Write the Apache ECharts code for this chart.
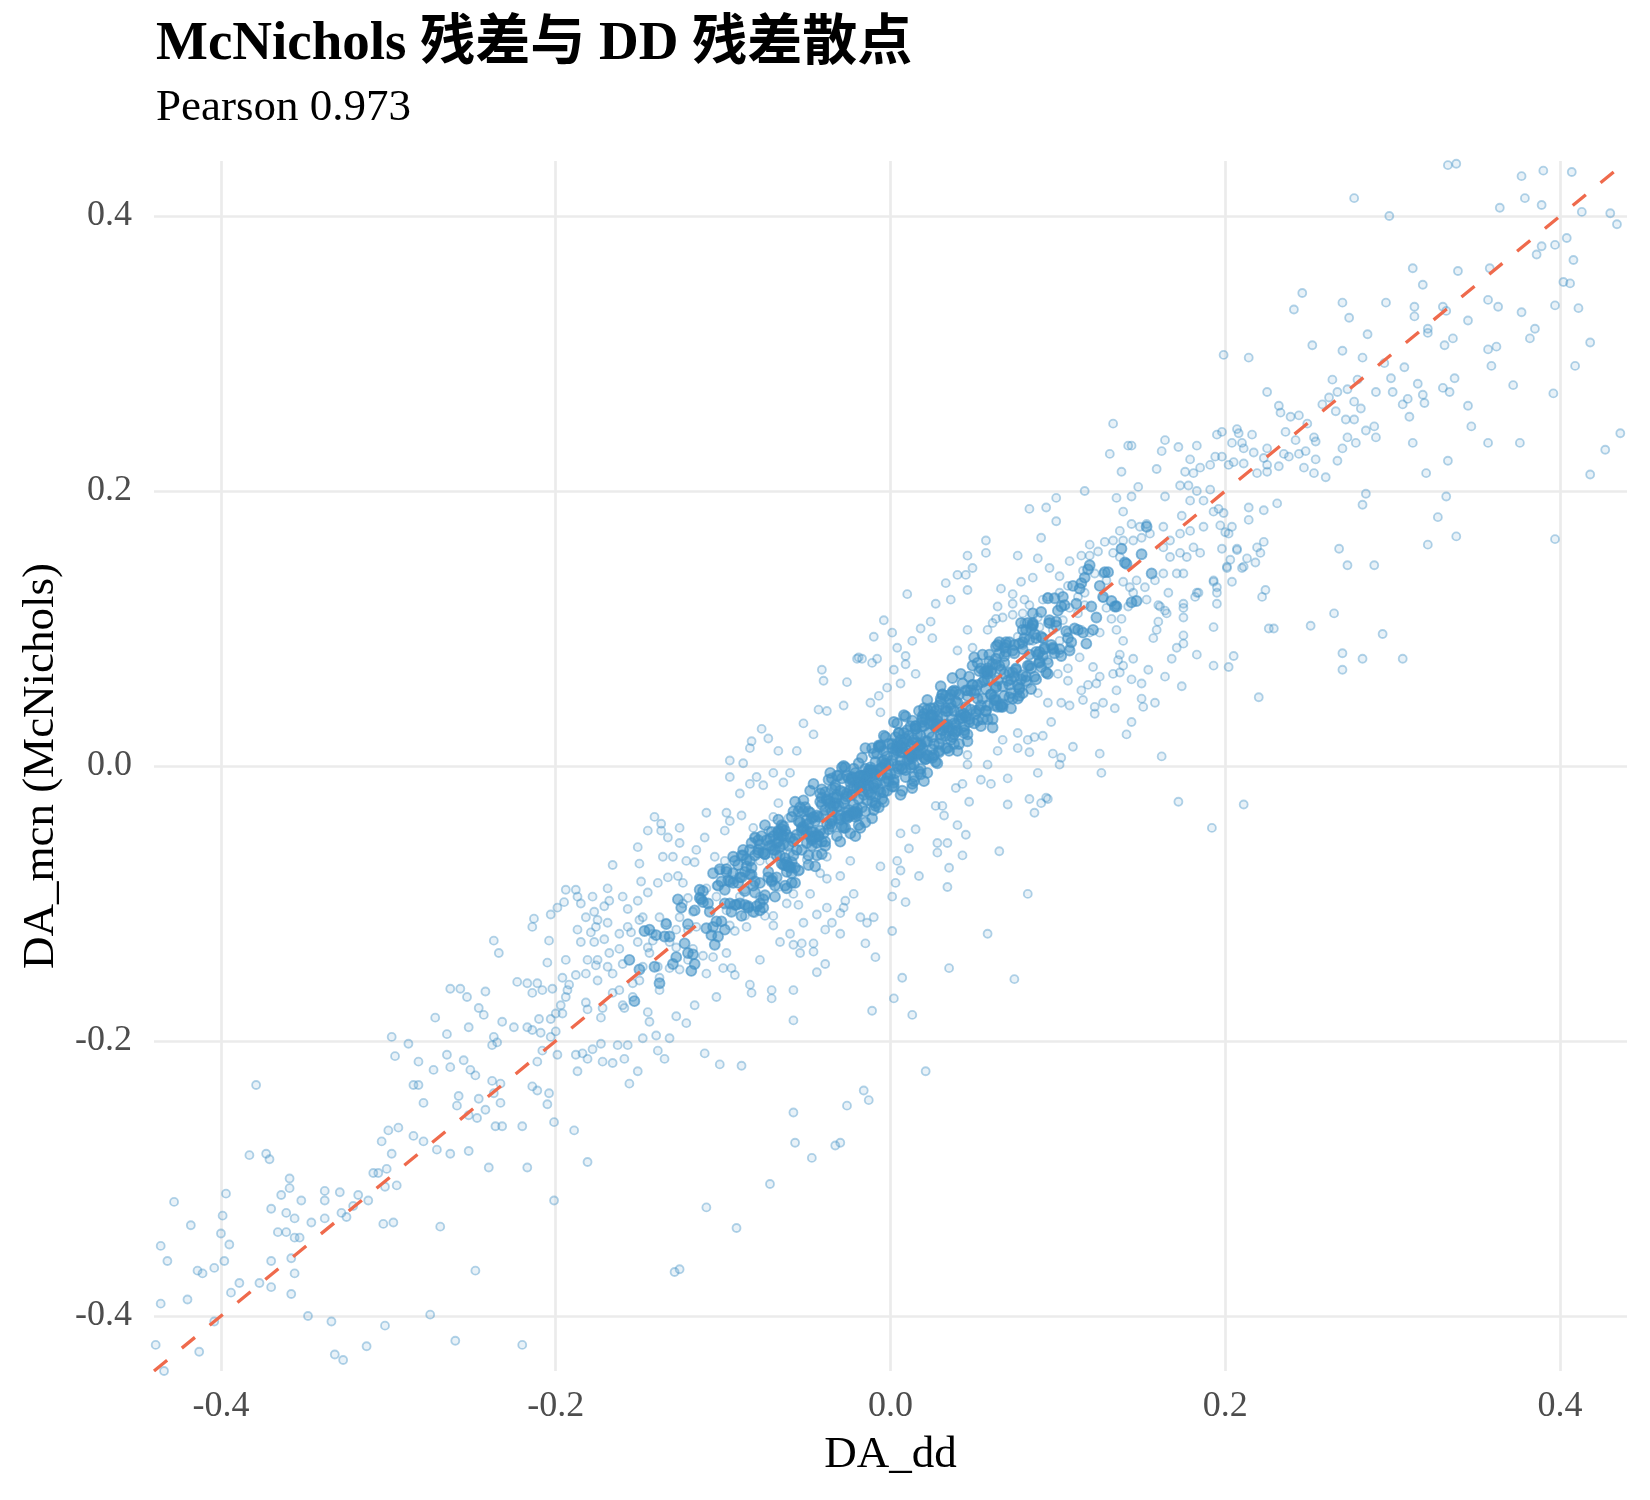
<!DOCTYPE html>
<html>
<head>
<meta charset="utf-8">
<script src="https://cdn.jsdelivr.net/npm/echarts@6/dist/echarts.min.js"></script>
<style>
  html, body { margin: 0; padding: 0; background: #fff; }
  #chart { width: 1650px; height: 1500px; }
</style>
</head>
<body>
<div id="chart"></div>
<script>
// DA_dd (x) vs DA_mcn (y)
const coreBand = [
  [-.003,.001],[.012,.001],[-.021,-.005],[.034,.028],[-.046,-.037],[.058,.044],[-.067,-.055],[.071,.068],[-.009,-.027],[.025,.032],
  [.005,-.002],[-.015,-.002],[.028,.03],[-.032,-.051],[.041,.052],[-.052,-.046],[.063,.048],[-.078,-.057],[.087,.083],[-.094,-.085],
  [-.007,.014],[.018,.015],[-.026,-.038],[.037,.054],[-.043,-.051],[.049,.073],[-.058,-.055],[.066,.044],[-.072,-.058],[.083,.073],
  [.001,-.015],[-.011,-.005],[.022,.041],[-.035,-.044],[.045,.043],[-.055,-.076],[.061,.074],[-.069,-.061],[.076,.059],[-.088,-.065],
  [.009,.02],[-.019,-.043],[.031,.036],[-.038,-.024],[.047,.034],[-.061,-.058],[.068,.086],[-.081,-.092],[.092,.085],[-.103,-.087],
  [-.002,-.006],[.008,.017],[-.013,-.014],[.016,.008],[-.024,-.012],[.027,.029],[-.036,-.042],[.039,.054],[-.048,-.051],[.053,.041],
  [.004,.011],[-.006,-.019],[.014,.009],[-.017,-.007],[.023,.024],[-.028,-.045],[.033,.042],[-.04,-.036],[.044,.024],[-.05,-.039],
  [-.004,.011],[.011,.005],[-.016,-.008],[.02,.006],[-.027,-.037],[.03,.049],[-.034,-.029],[.043,.035],[-.054,-.041],[.057,.056],
  [.007,-.002],[-.009,-.006],[.019,.032],[-.022,-.016],[.026,.008],[-.031,-.038],[.036,.052],[-.044,-.056],[.051,.055],[-.059,-.037],
  [-.001,.001],[.003,.021],[-.012,-.021],[.013,.017],[-.019,-.012],[.021,.005],[-.03,-.018],[.032,.03],[-.041,-.055],[.046,.055],
  [.002,-.01],[-.005,.003],[.01,.026],[-.014,-.017],[.017,.009],[-.023,-.01],[.029,.01],[-.033,-.027],[.038,.04],[-.045,-.051],
  [-.008,-.003],[.006,.004],[-.018,-.007],[.024,.036],[-.029,-.044],[.035,.026],[-.039,-.019],[.048,.055],[-.056,-.061],[.062,.044],
  [.012,.015],[-.013,-.003],[.025,.012],[-.025,-.036],[.039,.047],[-.042,-.026],[.054,.044],[-.063,-.067],[.073,.084],[-.084,-.079],
  [-.005,-.024],[.015,.029],[-.02,-.016],[.027,.028],[-.033,-.016],[.042,.037],[-.047,-.058],[.056,.068],[-.065,-.046],[.07,.062],
  [.006,.019],[-.003,.002],[.016,.009],[-.011,-.026],[.02,.029],[-.016,-.012],[.032,.028],[-.026,-.007],[.035,.049],[-.037,-.046],
  [-.006,-.007],[.009,-.008],[-.014,-.008],[.019,.029],[-.021,-.033],[.029,.044],[-.032,-.03],[.04,.026],[-.044,-.036],[.05,.053],
  [.003,.012],[-.01,-.014],[.013,.033],[-.024,-.017],[.022,.008],[-.034,-.023],[.037,.021],[-.047,-.048],[.055,.061],[-.064,-.051],
  [0,-.006],[.016,.017],[-.009,.003],[.026,.016],[-.015,-.033],[.033,.04],[-.023,-.008],[.045,.036],[-.038,-.042],[.059,.076],
  [.008,.024],[-.004,-.019],[.017,.015],[-.012,-.003],[.028,.033],[-.02,-.031],[.041,.034],[-.027,-.024],[.049,.059],[-.035,-.017],
  [-.011,-.004],[.004,.016],[-.022,-.028],[.014,.001],[-.031,-.029],[.023,.031],[-.04,-.049],[.03,.047],[-.049,-.033],[.037,.034],
  [-.052,-.044],[-.061,-.073],[-.067,-.048],[-.073,-.077],[-.079,-.054],[-.085,-.103],[-.091,-.085],[-.097,-.083],[-.104,-.113],[-.112,-.091],
  [-.049,-.065],[-.057,-.053],[-.064,-.072],[-.071,-.058],[-.076,-.097],[-.083,-.074],[-.088,-.061],[-.095,-.106],[-.101,-.084],[-.108,-.106],
  [-.055,-.033],[-.059,-.078],[-.066,-.065],[-.069,-.095],[-.075,-.064],[-.081,-.084],[-.087,-.101],[-.093,-.069],[-.099,-.119],[-.117,-.105],
  [-.05,-.047],[-.063,-.047],[-.068,-.081],[-.074,-.054],[-.078,-.085],[-.084,-.069],[-.09,-.081],[-.096,-.1],[-.106,-.078],[-.121,-.136],
  [.051,.04],[.058,.067],[.064,.043],[.069,.083],[.075,.07],[.081,.065],[.086,.096],[.093,.068],[.099,.105],[.106,.093],
  [.054,.071],[.06,.052],[.066,.07],[.072,.053],[.077,.089],[.083,.081],[.089,.075],[.095,.106],[.102,.08],[.111,.118],
  [.052,.049],[.057,.04],[.063,.078],[.067,.058],[.073,.049],[.079,.085],[.084,.056],[.091,.093],[.097,.085],[.115,.097],
  [.056,.062],[.062,.05],[.068,.067],[.074,.082],[.078,.063],[.085,.104],[.088,.081],[.094,.075],[.104,.117],[.12,.116],
  [-.017,-.03],[.005,.024],[-.025,-.009],[.018,-.002],[-.035,-.04],[.027,.04],[-.042,-.02],[.036,.019],[-.053,-.061],[.047,.032],
  [.011,.009],[-.007,.015],[.021,.005],[-.018,-.015],[.024,.037],[-.026,-.034],[.034,.013],[-.036,-.027],[.043,.06],[-.046,-.048],
  [-.002,.007],[.002,-.012],[-.015,-.01],[.007,.01],[-.02,-.036],[.012,.029],[-.028,-.027],[.019,.013],[-.037,-.025],[.025,.006],
  [.015,.027],[-.017,-.018],[.02,.038],[-.022,-.034],[.03,.023],[-.029,-.009],[.037,.026],[-.043,-.037],[.042,.039],[-.048,-.034],
  [.001,.004],[-.002,-.009],[.004,0],[-.006,-.002],[.009,.012],[-.01,-.016],[.013,.006],[-.014,-.009],[.018,.022],[-.019,-.024],
  [.003,-.005],[-.004,.004],[.007,.013],[-.008,-.012],[.012,.008],[-.013,-.019],[.016,.023],[-.017,-.012],[.021,.018],[-.023,-.021],
  [-.001,-.011],[.002,.008],[-.005,-.001],[.006,.01],[-.009,-.013],[.01,.004],[-.012,-.003],[.014,.019],[-.016,-.021],[.018,.011],
  [.025,.021],[-.026,-.02],[.028,.036],[-.03,-.036],[.031,.026],[-.032,-.023],[.034,.04],[-.035,-.039],[.038,.031],[-.039,-.032],
  [.04,.046],[-.042,-.047],[.044,.038],[-.045,-.04],[.046,.051],[-.047,-.053],[.048,.041],[-.05,-.056],[.052,.059],[-.053,-.045],
  [.055,.049],[-.056,-.05],[.058,.063],[-.058,-.065],[.06,.068],[-.06,-.052],[.063,.057],[-.062,-.07],[.065,.073],[-.066,-.059],
  [-.004,.022],[.013,-.016],[-.019,.002],[.027,.003],[-.036,-.005],[.044,.026],[-.052,-.025],[.061,.028],[-.07,-.051],[.079,.053],
  [.006,-.021],[-.011,.013],[.02,-.011],[-.029,-.001],[.038,.016],[-.046,-.013],[.054,.029],[-.064,-.044],[.072,.042],[-.081,-.052],
  [-.008,.009],[.017,.04],[-.024,-.049],[.033,.013],[-.041,-.017],[.05,.079],[-.057,-.085],[.067,.043],[-.075,-.043],[.085,.103],
  [.002,.032],[-.015,-.041],[.024,.042],[-.032,-.007],[.04,.011],[-.049,-.072],[.059,.081],[-.067,-.039],[.077,.056],[-.089,-.065],
  [-.01,-.032],[.008,.037],[-.027,-.001],[.022,-.005],[-.039,-.058],[.031,.052],[-.048,-.018],[.046,.023],[-.062,-.089],[.055,.081],
  [.014,-.011],[-.006,.014],[.03,.058],[-.021,-.051],[.035,.011],[-.037,-.01],[.052,.033],[-.045,-.073],[.064,.088],[-.057,-.026],
  [-.062,-.05],[-.069,-.087],[-.077,-.051],[-.083,-.079],[-.09,-.1],[-.098,-.077],[-.105,-.13],[-.113,-.097],[-.121,-.115],[-.13,-.144],
  [-.065,-.071],[-.072,-.053],[-.08,-.102],[-.086,-.073],[-.094,-.066],[-.101,-.113],[-.109,-.1],[-.117,-.144],[-.125,-.103],[-.135,-.124],
  [-.058,-.033],[-.064,-.057],[-.071,-.084],[-.079,-.061],[-.087,-.091],[-.094,-.078],[-.102,-.075],[-.11,-.118],[-.118,-.137],[-.127,-.097],
  [-.06,-.074],[-.068,-.065],[-.075,-.064],[-.082,-.106],[-.091,-.072],[-.099,-.1],[-.107,-.123],[-.114,-.09],[-.123,-.129],[-.14,-.123],
  [-.132,-.124],[-.138,-.158],[-.144,-.119],[-.15,-.148],[-.156,-.141],[-.063,-.072],[-.071,-.048],[-.085,-.102],[-.096,-.084],[-.119,-.149],
  [-.128,-.139],[-.134,-.115],[-.141,-.146],[-.147,-.12],[-.153,-.171],[-.067,-.047],[-.078,-.105],[-.089,-.081],[-.103,-.124],[-.112,-.099],
  [.062,.048],[.069,.09],[.077,.051],[.083,.092],[.09,.072],[.098,.122],[.105,.098],[.113,.129],[.121,.099],[.13,.141],
  [.065,.082],[.072,.063],[.08,.093],[.086,.065],[.094,.122],[.101,.085],[.109,.131],[.117,.089],[.125,.131],[.135,.116],
  [.058,.034],[.064,.062],[.071,.09],[.079,.066],[.087,.093],[.094,.067],[.102,.116],[.11,.1],[.118,.143],[.127,.123],
  [.06,.069],[.068,.051],[.075,.071],[.082,.104],[.091,.08],[.099,.102],[.107,.084],[.114,.133],[.123,.108],[.14,.148],
  [.132,.12],[.138,.158],[.144,.119],[.15,.154],[.156,.14],[.063,.074],[.071,.05],[.085,.102],[.096,.088],[.119,.146],
  [.128,.141],[.134,.116],[.141,.147],[.147,.12],[.153,.174],[.067,.045],[.078,.104],[.089,.083],[.103,.123],[.112,.099],
  [-.003,-.011],[.004,.014],[-.011,-.005],[.009,-.003],[-.018,-.015],[.015,.029],[-.025,-.032],[.022,.018],[-.032,-.021],[.029,.016],
  [.001,.013],[-.007,-.017],[.012,.007],[-.014,-.006],[.019,.034],[-.021,-.035],[.026,.03],[-.028,-.019],[.033,.022],[-.035,-.033],
  [-.005,-.002],[.006,0],[-.009,-.022],[.011,.022],[-.016,-.007],[.018,.016],[-.023,-.009],[.025,.037],[-.03,-.039],[.036,.042],
  [.039,.03],[-.041,-.028],[.045,.055],[-.047,-.054],[.051,.038],[-.053,-.047],[.057,.069],[-.059,-.07],[.063,.058],[-.065,-.051],
  [.068,.075],[-.071,-.083],[.074,.065],[-.076,-.063],[.079,.09],[-.082,-.087],[.084,.071],[-.087,-.077],[.09,.094],[-.093,-.101],
  [-.021,-.037],[.019,.036],[-.041,-.023],[.038,.023],[-.061,-.073],[.058,.071],[-.079,-.063],[.081,.062],[-.099,-.09],[.097,.086],
  [-.086,-.068],[-.078,-.1],[-.07,-.061],[-.062,-.077],[-.054,-.03],[-.046,-.052],[-.038,-.025],[-.03,-.055],[-.022,-.002],[-.014,-.025],
  [-.006,.015],[.002,-.015],[.01,.018],[.018,-.006],[.026,.042],[.034,.03],[.042,.067],[.05,.031],[.058,.069],[.066,.043],
  [.074,.088],[.082,.073],[.09,.112],[.098,.082],[-.089,-.109],[-.081,-.065],[-.073,-.081],[-.065,-.043],[-.057,-.074],[-.049,-.042],
  [-.041,-.064],[-.033,-.014],[-.025,-.037],[-.017,.006],[-.009,-.029],[-.001,.016],[.007,-.018],[.015,.027],[.023,.007],[.031,.052],
  [.039,.025],[.047,.065],[.055,.034],[.063,.087],[.071,.059],[.079,.099],[.087,.063],[.095,.104],[-.083,-.056],[-.075,-.094],
  [-.067,-.05],[-.059,-.085],[-.051,-.03],[-.043,-.051],[-.035,-.009],[-.027,-.045],[-.019,-.008],[-.011,-.038],[-.003,.021],[.005,.024],
  [.013,-.013],[.021,.034],[.029,.011],[.037,.064],[.045,.036],[.053,.069],[.061,.034],[.069,.088],[.077,.057],[.085,.111],
  [-.092,-.101],[-.084,-.061],[-.076,-.103],[-.068,-.056],[-.06,-.073],[-.052,-.033],[-.044,-.065],[-.036,-.03],[-.028,0],[-.02,-.034],
  [-.012,-.001],[-.004,-.026],[.004,.031],[.012,-.001],[.02,.042],[.028,.002],[.036,.045],[.044,.029],[.052,.075],[.06,.052],
  [.068,.08],[.076,.049],[.084,.1],[.092,.086],[.1,.113],[.108,.09],[-.098,-.075],[-.106,-.117],[-.114,-.096],[.116,.137],
  [-.047,-.038],[-.039,-.055],[-.031,-.007],[-.023,-.034],[-.015,.013],[-.007,-.03],[.001,.016],[.009,.036],[.017,-.004],[.025,.036],
  [.033,.051],[.041,.016],[.049,.059],[.057,.04],[.065,.09],[.073,.068],[.081,.099],[.089,.076],[-.063,-.087],[-.055,-.04],
  [-.026,-.022],[-.018,-.045],[-.01,.009],[-.002,-.018],[.006,.015],[.014,-.008],[.022,.048],[.03,.02],[.038,.055],[.046,.018]
];

const upperBand = [
  [.057,.164],[.057,.155],[.046,.153],[.04,.139],[.045,.139],[.049,.144],[.033,.133],[.046,.128],[.027,.118],[.036,.121],
  [.01,.125],[.076,.153],[.088,.151],[.083,.187],[.093,.188],[.099,.195],[.099,.178],[.09,.166],[.078,.134],[.085,.137],
  [.095,.144],[.101,.138],[.066,.129],[.073,.125],[.107,.149],[.114,.153],[.119,.153],[.124,.156],[.119,.161],[.128,.163],
  [.115,.142],[.122,.14],[.127,.14],[.106,.131],[.112,.123],[.101,.126],[.094,.123],[.091,.121],[.083,.117],[.08,.121],
  [.073,.118],[.064,.116],[.063,.107],[.067,.108],[.061,.104],[.058,.099],[.073,.11],[.079,.111],[.08,.104],[.088,.108],
  [.089,.101],[.094,.104],[.097,.099],[.103,.106],[.107,.115],[.112,.111],[.116,.117],[.116,.126],[.127,.122],[.129,.115],
  [.135,.117],[.132,.107],[.138,.107],[.135,.099],[.106,.097],[.114,.099],[.119,.097],[.125,.097],[.101,.091],[.107,.086],
  [.113,.079],[.121,.072],[.125,.065],[.123,.06],[.118,.059],[.106,.071],[.106,.062],[.1,.067],[.101,.082],[.094,.077],
  [.085,.091],[.079,.088],[.076,.094],[.088,.075],[.083,.072],[.082,.06],[.088,.053],[.076,.053],[.094,.046],[.102,.046],
  [.107,.044],[.114,.055],[.115,.048],[.122,.043],[.096,.032],
  [-.004,.106],[.001,.097],[-.01,.094],[.018,.1],[.013,.091],[.025,.093],[.024,.105],[.046,.099],[.049,.086],[.04,.084],
  [-.02,.078],[-.017,.078],[-.008,.078],[-.011,.075],[.009,.074],[.004,.086],[-.026,.061],[-.028,.044],[.002,.07],[.015,.067],
  [.009,.08],[-.019,.079],[-.041,.07],[-.04,.062],[-.043,.041],[-.038,.04],[-.052,.031],[-.046,.023],[-.012,.046],[-.006,.039],
  [.006,.06],[-.007,.051],[-.002,.057],
  [.133,.155],[.137,.152],[.139,.164],[.145,.164],[.15,.166],[.155,.169],[.163,.159],[.167,.152],[.173,.155],[.177,.152],
  [.181,.159],[.185,.155],[.171,.14],[.175,.14],[.163,.14],[.158,.135],[.152,.13],[.147,.135],[.143,.13],[.139,.134],
  [.142,.116],[.145,.126],[.153,.121],[.161,.116],[.165,.111],[.175,.118],[.183,.126],[.193,.135],[.195,.13],[.201,.145],
  [.203,.15],[.211,.145],[.221,.155],[.207,.157],[.187,.174],[.179,.171],[.173,.169],[.167,.164],[.163,.174],[.153,.176],
  [.149,.174],[.144,.176],[.137,.171],[.133,.164],[.129,.135]
];

const upperTail = [
  [.133,.249],[.142,.233],[.144,.233],[.164,.237],[.162,.229],[.172,.232],[.183,.233],[.179,.223],[.195,.241],[.198,.243],
  [.207,.245],[.208,.242],[.216,.241],[.204,.235],[.21,.235],[.211,.231],[.217,.228],[.225,.231],[.194,.225],[.198,.225],
  [.202,.219],[.205,.221],[.211,.22],[.131,.227],[.138,.214],[.159,.216],[.176,.214],[.181,.213],[.185,.217],[.191,.219],
  [.223,.224],[.225,.219],[.232,.218],[.238,.225],[.235,.227],[.244,.227],[.248,.229],[.247,.217],[.219,.213],[.225,.214],
  [.239,.254],[.244,.255],[.249,.249],[.242,.237],[.236,.243],[.253,.239],[.254,.236],[.254,.223],[.253,.213],[.26,.21],
  [.27,.231],[.267,.222],[.262,.268],[.258,.263],[.266,.258],[.277,.265],[.281,.26],[.272,.252],[.277,.252],[.289,.247],
  [.284,.244],[.29,.239],[.273,.239],[.278,.235],[.31,.254],[.312,.235],[.357,.235],[.376,.235],[.333,.222],[.32,.213],
  [.225,.272],[.232,.262],[.233,.257],[.321,.318],[.331,.306],[.336,.311],[.345,.324],[.339,.36],[.312,.362],[.318,.35],
  [.277,.413],[.298,.4],[.377,.429],[.379,.413],[.389,.408],[.364,.406],[.389,.378],[.386,.372],[.199,.299],[.214,.297],
  [.282,.297],[.295,.293],[.307,.29],[.264,.281],[.267,.272],[.273,.274],[.279,.281],[.29,.272],[.299,.282],[.3,.272],
  [.315,.278],[.318,.27],[.309,.267],[.306,.263],[.319,.264],[.33,.275],[.334,.272],[.337,.282],[.345,.262],[.347,.247],
  [.372,.277],[.357,.303],[.362,.305],[.359,.291],[.382,.311],[.385,.318],[.333,.437],[.338,.438],[.246,.344],[.241,.332],
  [.27,.337],[.296,.337],[.274,.326],[.313,.334],[.313,.327],[.33,.334],[.332,.331],[.357,.339],[.363,.334],[.377,.33],
  [.321,.315],[.285,.314],[.252,.306],[.27,.302],[.358,.362],
  [.116,.2],[.135,.195],[.139,.185],[.144,.196],[.148,.203],[.164,.196],[.173,.204],[.178,.204],[.183,.2],[.174,.182],
  [.179,.193],[.187,.193],[.191,.201],[.193,.185],[.196,.187],[.199,.184],[.197,.175],[.2,.17],[.204,.174],[.214,.188],
  [.223,.186],[.214,.179],[.231,.191],[.202,.169],[.198,.158],[.207,.158],[.223,.163],[.219,.159],[.218,.148],[.213,.151],
  [.201,.144],[.21,.144],[.193,.134],[.204,.134],[.195,.126],[.195,.118],[.224,.128],[.222,.123],[.226,.1],[.229,.1],
  [.193,.101],[.205,.08],[.202,.072],[.22,.05],[.183,.081],[.193,.073],[.174,.058],[.164,.065],[.158,.046],[.151,.043],
  [.144,.032],[.15,.049],[.134,.042],[.127,.046],[.122,.038],[.168,.078],[.171,.086],[.175,.095],[.175,.089],[.175,.108],
  [.175,.115],[.159,.099],[.157,.093],[.16,.105],[.166,.126],[.16,.117],[.164,.113],[.184,.126],[.182,.123],[.145,.078],
  [.154,.07],[.144,.063],[.15,.06],[.139,.091],[.137,.081],[.136,.077],[.139,.073],[.133,.067],[.137,.068],[.135,.055],
  [.407,.432],[.413,.403],[.43,.402],[.434,.394],[.39,.433],[.397,.335],[.411,.333],[.402,.352],[.406,.351],[.408,.368],
  [.397,.379],[.404,.384],[.418,.308],[.409,.291],[.396,.271],[.332,.196],[.327,.181],[.338,.167],[.321,.161],[.397,.165],
  [.418,.212],[.427,.23],[.436,.242],[.284,.198],[.282,.19],[.268,.158],[.289,.146],[.273,.146],[.251,.102],[.294,.096],
  [.27,.082],[.27,.07],[.282,.078],[.306,.078],[.265,.111]
];

const lowerBand = [
  [-.11,-.034],[-.141,-.037],[-.137,-.042],[-.137,-.047],[-.145,-.047],[-.133,-.052],[-.151,-.059],[-.166,-.072],[-.15,-.071],[-.136,-.066],
  [-.13,-.066],[-.126,-.056],[-.149,-.084],[-.145,-.092],[-.139,-.085],[-.169,-.089],[-.168,-.098],[-.188,-.09],[-.194,-.09],[-.187,-.095],
  [-.199,-.103],[-.195,-.099],[-.177,-.106],[-.157,-.104],[-.169,-.114],[-.179,-.121],[-.187,-.119],[-.203,-.108],[-.213,-.111],[-.214,-.117],
  [-.204,-.127],[-.205,-.143],[-.194,-.141],[-.237,-.127],[-.234,-.136],[-.223,-.157],[-.217,-.158],[-.211,-.158],[-.214,-.165],[-.208,-.163],
  [-.202,-.162],[-.196,-.154],[-.193,-.163],[-.194,-.168],[-.197,-.174],[-.196,-.18],[-.2,-.18],[-.203,-.184],[-.21,-.184],[-.217,-.19],
  [-.214,-.192],[-.209,-.194],[-.203,-.197],[-.2,-.193],[-.232,-.186],[-.225,-.19],[-.237,-.197],[-.235,-.201],[-.238,-.203],[-.246,-.176],
  [-.243,-.181],[-.263,-.162],[-.257,-.162],[-.253,-.168],[-.242,-.164],[-.252,-.19],[-.265,-.195],[-.185,-.128],[-.177,-.128],[-.171,-.126],
  [-.181,-.141],[-.175,-.141],[-.182,-.151],[-.175,-.156],[-.188,-.152],[-.192,-.159],[-.182,-.172],[-.181,-.177],[-.176,-.145],[-.169,-.146],
  [-.168,-.136],[-.162,-.133],[-.16,-.144],[-.166,-.151],[-.162,-.163],[-.166,-.165],[-.16,-.174],[-.172,-.176],[-.173,-.183],[-.159,-.176],
  [-.154,-.158],[-.154,-.168],[-.15,-.156],[-.148,-.146],[-.144,-.136],[-.142,-.127],[-.139,-.146],[-.138,-.154],[-.145,-.179],[-.144,-.186],
  [-.14,-.196],[-.148,-.198],[-.132,-.198],[-.139,-.207],[-.135,-.213],[-.157,-.203],[-.163,-.203],[-.173,-.202],[-.178,-.206],[-.159,-.213],
  [-.184,-.209],[-.181,-.213],[-.188,-.21],[-.199,-.21],[-.208,-.207],[-.111,-.209],[-.128,-.182],[-.122,-.187],[-.117,-.174],[-.132,-.147],
  [-.138,-.163],[-.126,-.148],[-.121,-.141],[-.11,-.151],[-.118,-.133],[-.112,-.138],[-.106,-.139],[-.104,-.168],[-.1,-.147],[-.095,-.147],
  [-.093,-.152],[-.098,-.136],[-.093,-.12],[-.084,-.159],[-.083,-.165],[-.078,-.141],[-.071,-.163],[-.071,-.169],[-.058,-.163],[-.054,-.136],
  [-.046,-.135],[-.039,-.144],[-.044,-.15],[-.058,-.185],[-.011,-.178],[-.015,-.129],[-.03,-.122],[-.039,-.119],[-.035,-.114],[-.046,-.129],
  [-.053,-.129],[-.058,-.13],[-.066,-.128],[-.06,-.122],[-.07,-.116],[-.052,-.114],[-.081,-.107],[-.07,-.109],[-.044,-.108],[-.028,-.103],
  [-.022,-.093],[-.038,-.103],[-.055,-.101],[-.062,-.1],[-.075,-.109],[-.087,-.109],[-.086,-.117],[-.096,-.116],[-.098,-.105],[-.104,-.095],
  [-.104,-.087],[-.11,-.089],[-.114,-.095],[-.121,-.096],[-.124,-.1],[-.126,-.11],[-.118,-.106],[-.116,-.117],[-.121,-.119],[-.128,-.119],
  [-.132,-.128],[-.128,-.132],[-.134,-.114],[-.138,-.11],[-.142,-.122],[-.145,-.132],[-.151,-.128],[-.155,-.121],[-.157,-.117],[-.162,-.122],
  [-.148,-.11],[-.16,-.095],[-.151,-.098],[-.15,-.112],[-.175,-.112],[-.176,-.117],[-.171,-.102],[-.178,-.095],[-.182,-.11],[-.185,-.1],
  [-.126,-.045],[-.098,-.034],[-.089,-.036],[-.096,-.04],[-.099,-.047],[-.111,-.052],[-.116,-.061],[-.122,-.069],[-.117,-.07],[-.133,-.081],
  [-.127,-.08],[-.124,-.085],[-.08,-.008],[-.07,-.005],[-.06,-.005],[-.064,-.012],[-.076,-.014],[-.084,-.013],[-.09,-.02],[-.096,-.008],
  [-.067,-.027],[-.07,-.037],[-.073,-.047],[-.082,-.045],[-.081,-.052],[-.061,-.038],[-.066,-.054],[-.05,-.042],[-.044,-.049],[-.044,-.056],
  [-.042,-.078],[-.038,-.082],[-.03,-.08],[-.027,-.098],[-.03,-.107],[-.018,-.11],[-.014,-.114],[-.01,-.11],[-.009,-.139],[-.05,-.068],
  [-.054,-.076],[-.048,-.093],[-.058,-.093],[-.067,-.088],[-.07,-.081],[-.078,-.095],[-.09,-.095],[-.087,-.09],[-.09,-.078],[-.094,-.083],
  [-.102,-.076],[-.099,-.069],[-.105,-.066],[-.078,-.069],[-.072,-.069],[-.078,-.059],[-.06,-.063],[-.038,-.066],[-.024,-.069],
  [-.077,.027],[-.073,.02],[-.083,.018],[-.084,.013],[-.096,.004],[-.088,.002],[-.067,.011],[-.056,.011]
];

const lowerTail = [
  [-.298,-.197],[-.288,-.202],[-.296,-.211],[-.282,-.215],[-.272,-.183],[-.265,-.21],[-.211,-.215],[-.187,-.222],[-.181,-.288],[-.255,-.214],
  [-.263,-.219],[-.273,-.221],[-.251,-.221],[-.248,-.225],[-.285,-.232],[-.282,-.232],[-.279,-.245],[-.238,-.229],[-.233,-.231],[-.237,-.238],
  [-.233,-.245],[-.246,-.242],[-.242,-.25],[-.258,-.24],[-.259,-.247],[-.247,-.256],[-.252,-.254],[-.236,-.262],[-.232,-.262],[-.22,-.262],
  [-.217,-.292],[-.204,-.238],[-.205,-.246],[-.201,-.259],[-.189,-.265],[-.214,-.233],[-.211,-.236],[-.271,-.279],[-.263,-.282],[-.252,-.28],
  [-.285,-.269],[-.279,-.273],[-.3,-.265],[-.294,-.263],[-.304,-.273],[-.298,-.282],[-.309,-.296],[-.306,-.296],[-.301,-.293],[-.302,-.306],
  [-.295,-.305],[-.318,-.312],[-.312,-.316],[-.321,-.32],[-.325,-.328],[-.328,-.325],[-.338,-.309],[-.329,-.31],[-.338,-.316],[-.346,-.332],
  [-.338,-.329],[-.359,-.3],[-.352,-.316],[-.359,-.307],[-.364,-.312],[-.37,-.322],[-.361,-.325],[-.356,-.329],[-.361,-.339],[-.356,-.343],
  [-.353,-.343],[-.366,-.339],[-.37,-.36],[-.358,-.358],[-.356,-.369],[-.389,-.376],[-.394,-.383],[-.377,-.376],[-.37,-.379],[-.358,-.384],
  [-.379,-.232],[-.383,-.283],[-.373,-.282],[-.371,-.286],[-.397,-.311],[-.399,-.327],[-.4,-.34],[-.395,-.348],[-.398,-.36],[-.404,-.365],
  [-.414,-.367],[-.411,-.369],[-.418,-.334],[-.428,-.317],[-.436,-.349],[-.432,-.36],[-.441,-.364],[-.42,-.388],[-.248,-.367],[-.269,-.335],
  [-.201,-.316],[-.303,-.333],[-.297,-.332],[-.24,-.292],
  [-.348,-.4],[-.334,-.404],[-.302,-.407],[-.275,-.399],[-.26,-.418],[-.22,-.421],[-.313,-.422],[-.332,-.428],[-.327,-.432],[-.439,-.421],
  [-.413,-.426],[-.434,-.44],[-.404,-.404],[-.436,-.391]
];

const offDiagonal = [
  [.088,-.005],[.07,-.009],[.083,-.024],[.09,-.027],[.093,-.023],[.07,-.028],[.086,-.034],[.065,-.062],[.082,-.093],[.047,-.026],
  [.054,-.01],[.06,-.013],[.043,-.013],[.039,-.016],[.04,-.043],[.045,-.05],[.043,-.065],[.028,-.056],[.034,-.056],[.035,-.074],
  [.034,-.088],[.027,-.029],[.031,-.029],[.032,-.036],[.015,-.046],[.006,-.049],[.011,-.06],[.017,-.08],[.009,-.099],[.001,-.095],
  [.004,-.069],[.003,-.085],
  [.162,.007],[.172,-.026],[.211,-.028],[.192,-.045],[.141,.023],[.125,.009],[.126,-.005],[.109,.014],[.097,.009],[.102,.006],
  [.101,.001],[.094,-.024],[.058,-.122],[.035,-.147],[.028,-.063],[.006,-.076],[.001,-.12],[-.006,-.073],
  [.091,.022],[.086,.021],[.082,.019],[.076,.013],[.083,.01],[.076,.024],[.067,.019],[.064,.011],[.058,.001],[.046,.001],[.046,.008],
  [-.058,-.252],[-.057,-.274],[-.047,-.285],[-.033,-.276],[-.03,-.274],[-.026,-.247],[-.016,-.236],[-.013,-.243],[-.072,-.304],[-.11,-.321],
  [-.092,-.336],[-.156,-.231],[-.151,-.222],[-.172,-.215],[-.166,-.216],[-.102,-.217],[-.089,-.218],[.002,-.169],[.007,-.154],[.013,-.181],
  [-.129,-.368],[-.126,-.366],[.074,-.155],[.021,-.222]
];

// the dashed y = x reference line runs across the full axis range
const axisRange = [-0.44, 0.44];
const refLine = [-0.44, 0.44];
const tickValues = [-0.4, -0.2, 0, 0.2, 0.4];

const serif = "'Liberation Serif', 'Times New Roman', serif";
const titleFont = "'Liberation Serif', 'Noto Sans CJK SC', serif";

function tickText(v) {
  if (!tickValues.some(t => Math.abs(t - v) < 1e-9)) return '';
  return (Math.abs(v) < 1e-9 ? 0 : v).toFixed(1);
}

const gridLine = { show: true, showMinLine: false, showMaxLine: false, lineStyle: { color: '#ebebeb', width: 2.7 } };

const lightPoint = { color: 'rgba(66,146,198,0.15)', borderColor: 'rgba(66,146,198,0.5)', borderWidth: 1.8 };
const densePoint = { color: 'rgba(66,146,198,0.65)', borderColor: 'rgba(66,146,198,0.8)', borderWidth: 1.8 };

function scatter(data, style, size) {
  return { type: 'scatter', data: data, symbol: 'circle', symbolSize: size, itemStyle: style, silent: true, z: 2 };
}

const chart = echarts.init(document.getElementById('chart'));
chart.setOption({
  animation: false,
  backgroundColor: '#fff',
  title: [
    { text: 'McNichols 残差与 DD 残差散点', left: 156, top: 17, padding: 0,
      textStyle: { fontFamily: titleFont, fontSize: 55, fontWeight: 'bold', color: '#000' } },
    { text: 'Pearson 0.973', left: 156, top: 86, padding: 0,
      textStyle: { fontFamily: serif, fontSize: 45, fontWeight: 'normal', color: '#000' } }
  ],
  grid: { left: 154, right: 23, top: 161, bottom: 129, containLabel: false },
  xAxis: {
    type: 'value', min: axisRange[0], max: axisRange[1],
    name: 'DA_dd', nameLocation: 'middle', nameGap: 62,
    nameTextStyle: { fontFamily: serif, fontSize: 45, color: '#000' },
    axisLine: { show: false }, axisTick: { show: false },
    axisLabel: { formatter: tickText, showMinLabel: false, showMaxLabel: false, margin: 18,
      fontFamily: serif, fontSize: 36, color: '#4d4d4d' },
    splitLine: gridLine
  },
  yAxis: {
    type: 'value', min: axisRange[0], max: axisRange[1],
    name: 'DA_mcn (McNichols)', nameLocation: 'middle', nameGap: 86, nameRotate: 90,
    nameTextStyle: { fontFamily: serif, fontSize: 45, color: '#000' },
    axisLine: { show: false }, axisTick: { show: false },
    axisLabel: { formatter: tickText, showMinLabel: false, showMaxLabel: false, margin: 22,
      fontFamily: serif, fontSize: 36, color: '#4d4d4d' },
    splitLine: gridLine
  },
  series: [
    scatter(lowerTail, lightPoint, 8),
    scatter(upperTail, lightPoint, 8),
    scatter(offDiagonal, lightPoint, 8),
    scatter(lowerBand, lightPoint, 8),
    scatter(upperBand, lightPoint, 8),
    scatter(coreBand, densePoint, 10),
    {
      type: 'line', data: refLine.map(v => [v, v]), symbol: 'none', silent: true, z: 5,
      lineStyle: { color: '#ef6a4c', width: 3.3, type: [17, 19] }
    }
  ]
});
</script>
</body>
</html>
